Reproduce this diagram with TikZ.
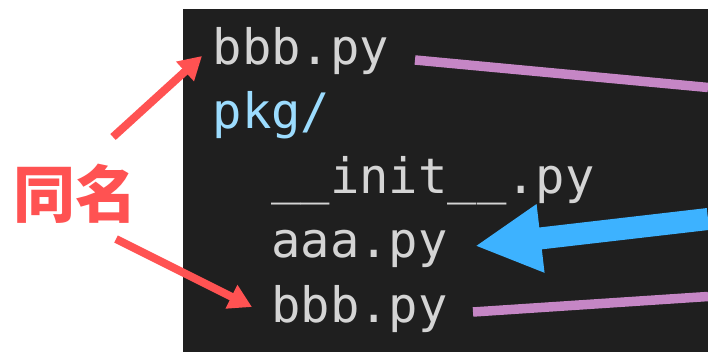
\documentclass[tikz,border=0pt]{standalone}
\usepackage{fontspec}
\setmonofont{DejaVu Sans Mono}
\newfontfamily\cjk{Noto Sans CJK SC}
\usetikzlibrary{arrows.meta}

\definecolor{panelbg}{HTML}{1F1F1F}
\definecolor{codefg}{HTML}{D4D4D4}
\definecolor{dirfg}{HTML}{9CDCFE}
\definecolor{markred}{HTML}{FF5252}
\definecolor{linkpurple}{HTML}{C586C5}
\definecolor{linkblue}{HTML}{3DB2FF}

\tikzset{
  code/.style={anchor=base west, inner sep=0pt, text=codefg,
    font=\ttfamily\fontsize{48.8}{58}\selectfont},
  dir/.style={code, text=dirfg},
  label/.style={inner sep=0pt, text=markred,
    font=\cjk\bfseries\fontsize{62}{70}\selectfont},
  redarrow/.style={draw=markred, line width=8pt,
    -{Triangle[length=23pt,width=25pt]}},
  purpleline/.style={draw=linkpurple, line width=9.5pt},
  bluearrow/.style={draw=linkblue, line width=22pt,
    -{Triangle[length=66pt,width=64pt]}}
}

\begin{document}
\begin{tikzpicture}[x=1pt,y=-1pt]
  \useasboundingbox (0,0) rectangle (708,352);
  \fill[white] (0,0) rectangle (708,352);
  % editor panel
  \fill[panelbg] (183,9) rectangle (708,352);

  % file tree
  \node[code] (top)  at (212.6,65)  {bbb.py};
  \node[dir]  (pkg)  at (212.6,129) {pkg/};
  \node[code] (init) at (271.2,194) {\_\_init\_\_.py};
  \node[code] (aaa)  at (271.2,258) {aaa.py};
  \node[code] (sub)  at (271.2,322) {bbb.py};

  % annotation
  \node[label] (same) at (75,193.5) {同名};

  % free ends of the connectors
  \coordinate (r1s) at (113,137);
  \coordinate (r1e) at (202,56);
  \coordinate (r2s) at (116,239);
  \coordinate (r2e) at (252,307);
  \coordinate (p1s) at (415,60);
  \coordinate (p1e) at (708,87.5);
  \coordinate (p2s) at (473,312);
  \coordinate (p2e) at (708,296.5);
  \coordinate (bs)  at (708,219);
  \coordinate (be)  at (475,246);

  \draw[redarrow] (r1s) -- (r1e);
  \draw[redarrow] (r2s) -- (r2e);
  \draw[purpleline] (p1s) -- (p1e);
  \draw[purpleline] (p2s) -- (p2e);
  \draw[bluearrow] (bs) -- (be);
\end{tikzpicture}
\end{document}
